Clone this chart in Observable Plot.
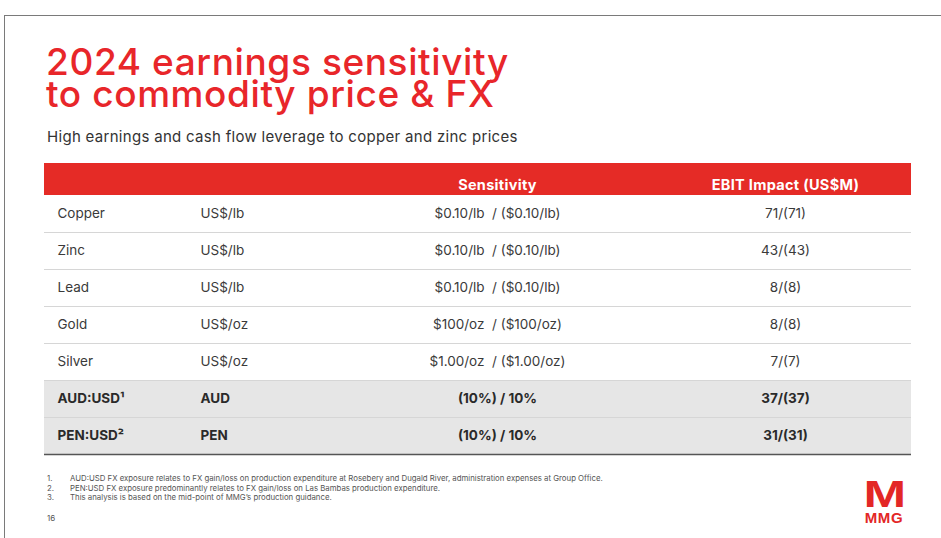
<!DOCTYPE html>
<html>
<head>
<meta charset="utf-8">
<script src="https://cdn.jsdelivr.net/npm/d3@7"></script>
<script src="https://cdn.jsdelivr.net/npm/@observablehq/plot@0.6"></script>
<style>
  html, body { margin: 0; padding: 0; background: #fff; }
  #slide { position: relative; width: 941px; height: 538px; overflow: hidden; font-family: Inter, sans-serif; }
  #frame { position: absolute; left: 4px; top: 15px; width: 1000px; height: 600px; border-top: 1.5px solid #7a7a7a; border-left: 1.5px solid #7a7a7a; }
  #title { position: absolute; left: 46px; top: 46px; margin: 0; color: #e8262a; font-size: 37px; line-height: 32px; font-weight: 500; letter-spacing: 0.6px; }
  #subtitle { position: absolute; left: 47px; top: 127px; margin: 0; color: #333; font-size: 15px; letter-spacing: 0.3px; }
  #table { position: absolute; left: 0; top: 163px; }
  #notes { position: absolute; left: 47px; top: 474px; color: #555; font-size: 7.8px; line-height: 9.6px; }
  #notes div span { display: inline-block; width: 23px; }
  #page { position: absolute; left: 47px; top: 513px; color: #555; font-size: 8px; }
  .logo { position: absolute; left: 858px; width: 52px; text-align: center; color: #e32726; font-weight: 900; font-family: "Liberation Sans", Arial, sans-serif; }
  #logoM { top: 479px; font-size: 32px; line-height: 30px; transform: scale(1.6, 1.15); letter-spacing: -1px; }
  #logoText { top: 512px; font-size: 15px; line-height: 12px; letter-spacing: 0.6px; }
</style>
</head>
<body>
<div id="slide">
  <div id="frame"></div>
  <h1 id="title">2024 earnings sensitivity<br>to commodity price &amp; FX</h1>
  <p id="subtitle">High earnings and cash flow leverage to copper and zinc prices</p>
  <div id="table"></div>
  <div id="notes"></div>
  <div id="page">16</div>
  <div class="logo" id="logoM">M</div>
  <div class="logo" id="logoText">MMG</div>
</div>
<script>
// ---- data ----
const categories = ["Copper", "Zinc", "Lead", "Gold", "Silver", "AUD:USD\u00b9", "PEN:USD\u00b2"];
const units = ["US$/lb", "US$/lb", "US$/lb", "US$/oz", "US$/oz", "AUD", "PEN"];
const sensitivity = [
  "$0.10/lb\u00a0 / ($0.10/lb)",
  "$0.10/lb\u00a0 / ($0.10/lb)",
  "$0.10/lb\u00a0 / ($0.10/lb)",
  "$100/oz\u00a0 / ($100/oz)",
  "$1.00/oz\u00a0 / ($1.00/oz)",
  "(10%) / 10%",
  "(10%) / 10%"
];
const ebitImpact = ["71/(71)", "43/(43)", "8/(8)", "8/(8)", "7/(7)", "37/(37)", "31/(31)"];
const fxRows = ["AUD:USD\u00b9", "PEN:USD\u00b2"];
const columnKeys = ["category", "unit", "sensitivity", "ebit"];
const columnHeaders = ["", "", "Sensitivity", "EBIT Impact (US$M)"];
const footnotes = [
  "AUD:USD FX exposure relates to FX gain/loss on production expenditure at Rosebery and Dugald River, administration expenses at Group Office.",
  "PEN:USD FX exposure predominantly relates to FX gain/loss on Las Bambas production expenditure.",
  "This analysis is based on the mid-point of MMG\u2019s production guidance."
];

// ---- build long table ----
const columnsData = {category: categories, unit: units, sensitivity: sensitivity, ebit: ebitImpact};
const cells = [];
categories.forEach((row, i) => {
  columnKeys.forEach(col => {
    cells.push({row, col, text: columnsData[col][i], bold: fxRows.includes(row)});
  });
});
const headers = columnKeys.map((col, i) => ({col, text: columnHeaders[i]})).filter(d => d.text);

// ---- layout (pixel positions of the columns) ----
const columnX = {category: 57, unit: 200, sensitivity: 497, ebit: 785};
const leftAligned = new Set(["category", "unit"]);
const W = 941, mTop = 32, mBottom = 2, rowH = 37;
const H = mTop + rowH * categories.length + mBottom;
const red = "#e52b26";

const headerBand = (index, scales, values, dims) => {
  const r = document.createElementNS("http://www.w3.org/2000/svg", "rect");
  r.setAttribute("x", dims.marginLeft);
  r.setAttribute("y", 0);
  r.setAttribute("width", dims.width - dims.marginLeft - dims.marginRight);
  r.setAttribute("height", dims.marginTop);
  r.setAttribute("fill", red);
  return r;
};

const cellText = (left, bold) => Plot.text(
  cells.filter(d => leftAligned.has(d.col) === left && d.bold === bold),
  {
    x: d => columnX[d.col], y: "row", text: "text",
    textAnchor: left ? "start" : "middle",
    fontSize: 13.5, fill: bold ? "#2a2a2a" : "#3a3a3a",
    fontWeight: bold ? "bold" : "normal"
  }
);

const plot = Plot.plot({
  width: W,
  height: H,
  marginTop: mTop,
  marginBottom: mBottom,
  marginLeft: 44,
  marginRight: 30,
  style: {fontFamily: "Inter, sans-serif", fontSize: "14px", background: "transparent", overflow: "visible"},
  x: {type: "identity", axis: null},
  y: {type: "band", domain: categories, padding: 0, round: false, axis: null},
  marks: [
    headerBand,
    Plot.text(headers, {
      x: d => columnX[d.col], frameAnchor: "top", dy: -mTop / 2, text: "text",
      fill: "white", fontWeight: "bold", fontSize: 14.5
    }),
    Plot.cell(fxRows, {y: d => d, fill: "#e6e6e6"}),
    Plot.ruleY(categories.slice(0, -1), {y: d => d, dy: rowH / 2, stroke: "#d6d6d6", strokeWidth: 1}),
    Plot.ruleY(categories.slice(-1), {y: d => d, dy: rowH / 2, stroke: "#555", strokeWidth: 1.6}),
    cellText(true, false),
    cellText(true, true),
    cellText(false, false),
    cellText(false, true)
  ]
});
d3.select(plot).selectAll("text").filter(function () { return this.getAttribute("fill") === "white" || this.parentNode.getAttribute("fill") === "white"; })
  .style("letter-spacing", "0.3px");
document.getElementById("table").appendChild(plot);

const notes = document.getElementById("notes");
footnotes.forEach((t, i) => {
  const div = document.createElement("div");
  const n = document.createElement("span");
  n.textContent = (i + 1) + ".";
  div.appendChild(n);
  div.appendChild(document.createTextNode(t));
  notes.appendChild(div);
});
</script>
</body>
</html>
